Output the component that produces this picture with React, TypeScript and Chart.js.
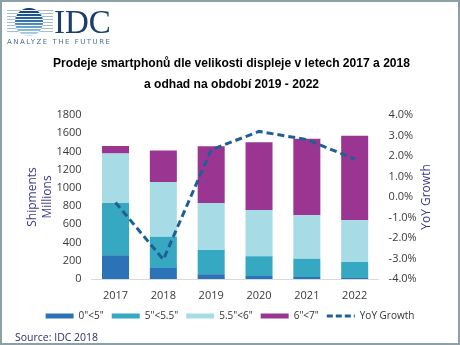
import React, { useEffect, useRef } from 'react';
import { Chart, registerables } from 'chart.js';

Chart.register(...registerables);

const years = ['2017', '2018', '2019', '2020', '2021', '2022'];
const size0to5 = [262, 120, 53, 34, 22, 11];
const size5to55 = [571, 344, 265, 217, 199, 176];
const size55to6 = [544, 600, 515, 507, 478, 459];
const size6to7 = [83, 347, 623, 742, 839, 926];
const yoyGrowth = [-0.27, -3.05, 2.3, 3.2, 2.8, 1.85];

const seriesLabels = ['0"<5"', '5"<5.5"', '5.5"<6"', '6"<7"'];
const lineLabel = 'YoY Growth';
const titleLines = [
  'Prodeje smartphonů dle velikosti displeje v letech 2017 a 2018',
  'a odhad na období 2019 - 2022',
];
const leftTitle = ['Shipments', 'Millions'];
const rightTitle = 'YoY Growth';
const sourceText = 'Source: IDC 2018';
const logoText = 'IDC';
const logoTagline = 'ANALYZE THE FUTURE';

const barColors = ['#2b72b6', '#37a8c2', '#a7dbe5', '#9b3592'];
const lineColor = '#1f5f97';
const axisTitleColor = '#3b3b8c';
const tickColor = '#3a3a3a';
const FONT = "'Open Sans', 'Noto Sans', sans-serif";

const rightTitlePlugin = {
  id: 'rightTitle',
  afterDraw(chart: any) {
    const { ctx, chartArea } = chart;
    ctx.save();
    ctx.translate(427, (chartArea.top + chartArea.bottom) / 2);
    ctx.rotate(-Math.PI / 2);
    ctx.font = `12px ${FONT}`;
    ctx.fillStyle = axisTitleColor;
    ctx.textAlign = 'center';
    ctx.textBaseline = 'middle';
    ctx.fillText(rightTitle, 0, 0);
    ctx.restore();
  },
};

// Title drawn condensed (the original uses a narrow bold face)
const condensedTitlePlugin = {
  id: 'condensedTitle',
  afterDraw(chart: any) {
    const { ctx } = chart;
    ctx.save();
    ctx.font = "bold 12.5px 'Liberation Sans', Arial, sans-serif";
    const w = ctx.measureText(titleLines[0]).width;
    const sx = 357 / w;
    ctx.fillStyle = '#000';
    ctx.textAlign = 'center';
    ctx.textBaseline = 'middle';
    titleLines.forEach((line, i) => {
      ctx.save();
      ctx.translate(231.5, 64 + i * 20.5);
      ctx.scale(sx, 1);
      ctx.fillText(line, 0, 0);
      ctx.restore();
    });
    ctx.restore();
  },
};

export default function App() {
  const canvasRef = useRef<HTMLCanvasElement | null>(null);

  useEffect(() => {
    if (!canvasRef.current) return;
    const seriesData = [size0to5, size5to55, size55to6, size6to7];
    const chart = new Chart(canvasRef.current, {
      type: 'bar',
      data: {
        labels: years,
        datasets: [
          ...seriesData.map((d, i) => ({
            type: 'bar' as const,
            label: seriesLabels[i],
            data: d,
            backgroundColor: barColors[i],
            borderWidth: 0,
            yAxisID: 'y',
            barPercentage: 0.565,
            categoryPercentage: 1,
            order: 2,
          })),
          {
            type: 'line' as const,
            label: lineLabel,
            data: yoyGrowth,
            borderColor: lineColor,
            backgroundColor: lineColor,
            borderWidth: 3,
            borderDash: [7, 4],
            pointRadius: 0,
            tension: 0,
            fill: false,
            yAxisID: 'y1',
            order: 1,
          },
        ],
      },
      options: {
        responsive: false,
        animation: false,
        events: [],
        layout: { padding: { left: 2, right: 2, top: 115, bottom: 14 } },
        plugins: {
          title: { display: false },
          legend: {
            position: 'bottom',
            labels: {
              usePointStyle: true,
              pointStyleWidth: 28,
              boxHeight: 5,
              padding: 8,
              color: '#333',
              font: { family: FONT, size: 10 },
              generateLabels: (c: any) =>
                c.data.datasets.map((ds: any, i: number) => {
                  const isLine = ds.type === 'line';
                  return {
                    text: ds.label,
                    fillStyle: isLine ? 'rgba(0,0,0,0)' : ds.backgroundColor,
                    strokeStyle: isLine ? ds.borderColor : ds.backgroundColor,
                    lineWidth: isLine ? 3 : 0,
                    lineDash: isLine ? [6, 3] : [],
                    pointStyle: isLine ? 'line' : 'rect',
                    fontColor: '#333',
                    hidden: false,
                    datasetIndex: i,
                  };
                }),
            },
          },
          tooltip: { enabled: false },
        },
        scales: {
          x: {
            stacked: true,
            grid: { display: false, drawTicks: false },
            border: { display: true, color: '#d9d9d9', width: 1 },
            ticks: { padding: 10, color: tickColor, font: { family: FONT, size: 11 } },
            afterFit: (s: any) => {
              s.height = 24;
            },
          },
          y: {
            stacked: true,
            position: 'left',
            min: 0,
            max: 1800,
            grid: { display: false, drawTicks: false },
            border: { display: false },
            ticks: {
              stepSize: 200,
              padding: 10,
              color: tickColor,
              font: { family: FONT, size: 11 },
              callback: (v: any) => String(v),
            },
            title: {
              display: true,
              text: leftTitle,
              color: axisTitleColor,
              font: { family: FONT, size: 12, lineHeight: 1.25 },
              padding: { top: 23, bottom: 0 },
            },
            afterFit: (s: any) => {
              s.width = 89.6;
            },
          },
          y1: {
            position: 'right',
            min: -4,
            max: 4,
            grid: { display: false, drawTicks: false },
            border: { display: false },
            ticks: {
              stepSize: 1,
              padding: 10,
              color: tickColor,
              font: { family: FONT, size: 11 },
              callback: (v: any) => Number(v).toFixed(1) + '%',
            },
            afterFit: (s: any) => {
              s.width = 79.4;
            },
          },
        },
      } as any,
      plugins: [rightTitlePlugin, condensedTitlePlugin],
    });
    return () => chart.destroy();
  }, []);

  return (
    <div style={{ position: 'fixed', left: 0, top: 0, width: 460, height: 345, background: '#fff', overflow: 'hidden' }}>
      <canvas ref={canvasRef} width={460} height={345} style={{ position: 'absolute', left: 0, top: 0, width: 460, height: 345 }} />
      {/* logo */}
      <div
        style={{
          position: 'absolute', left: 7, top: 10, width: 46, height: 24,
          background: 'repeating-linear-gradient(to bottom, #a9bccb 0 1px, transparent 1px 3px)',
        }}
      />
      <div
        style={{
          position: 'absolute', left: 15, top: 8, width: 28, height: 28, borderRadius: '50%',
          background:
            'repeating-linear-gradient(to bottom, transparent 0 2px, rgba(255,255,255,0.95) 2px 3px), linear-gradient(to bottom, #0f3564, #2f6ea6 45%, #8dbbd8 80%, #c3dcec)',
        }}
      />
      <div
        style={{
          position: 'absolute', left: 54, top: 2, fontFamily: "'Liberation Serif', 'DejaVu Serif', serif",
          fontSize: 33, lineHeight: '40px', color: '#1d3d6d',
        }}
      >
        {logoText}
      </div>
      <div
        style={{
          position: 'absolute', left: 7, top: 37, fontFamily: "'DejaVu Sans', sans-serif", fontSize: 7,
          letterSpacing: 1.5, color: '#4d6e8c', whiteSpace: 'nowrap', lineHeight: '10px',
        }}
      >
        {logoTagline}
      </div>
      <div
        style={{
          position: 'absolute', left: 15, top: 329, fontFamily: FONT, fontSize: 10.5,
          color: '#2c3266', whiteSpace: 'nowrap', lineHeight: '16px',
        }}
      >
        {sourceText}
      </div>
      <div
        style={{
          position: 'absolute', left: 0, top: 0, width: 460, height: 345, boxSizing: 'border-box',
          border: '2px solid #8da0a8', pointerEvents: 'none',
        }}
      />
    </div>
  );
}
